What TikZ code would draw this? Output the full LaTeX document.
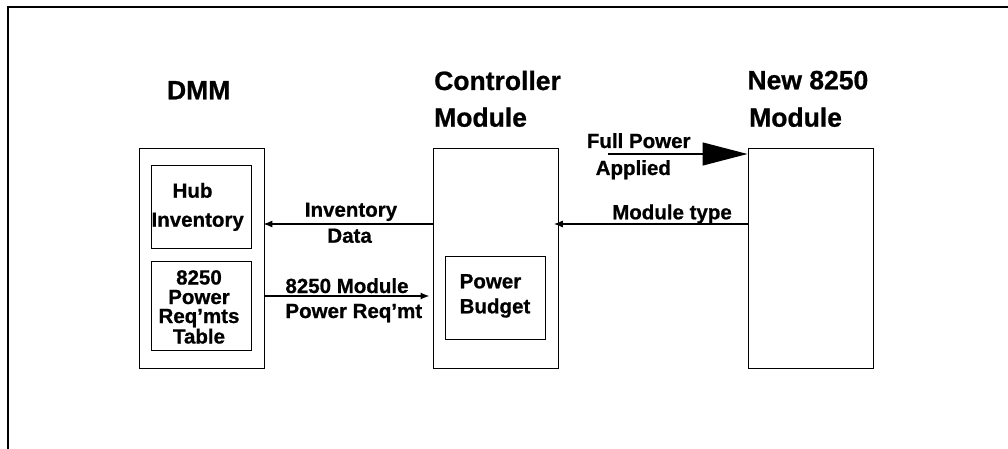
\documentclass[tikz,border=0pt]{standalone}
\usepackage{fontspec}
\setmainfont{Liberation Sans}[BoldFeatures={FakeBold=0.8}]
\usetikzlibrary{arrows.meta}
\begin{document}
\begin{tikzpicture}[x=1pt,y=-1pt,
  boxline/.style={draw=black,line width=1.3pt},
  blk/.style={boxline,rectangle,inner sep=0pt,anchor=north west},
  head/.style={inner sep=0pt,font=\bfseries\fontsize{26.5}{30}\selectfont},
  lbl/.style={inner sep=0pt,font=\bfseries\fontsize{20.5}{24}\selectfont},
  arr/.style={line width=1.3pt,-{Latex[length=9pt,width=7pt]}},
  bigarr/.style={line width=1.3pt,-{Triangle[length=45pt,width=23pt]}}]
\useasboundingbox (0,0) rectangle (1008,449);
% frame (partial)
\draw[line width=2pt] (7.5,449) -- (7.5,7.5) -- (1008,7.5);
% big boxes
\node[blk,minimum width=125pt,minimum height=220pt] (dmm) at (139,148) {};
\node[blk,minimum width=125pt,minimum height=220pt] (ctl) at (432.5,148) {};
\node[blk,minimum width=125pt,minimum height=220pt] (newm) at (747.5,148) {};
% inner boxes
\node[blk,minimum width=100pt,minimum height=82.5pt] (hub) at (150.5,165) {};
\node[blk,minimum width=100pt,minimum height=89pt] (tbl) at (150.5,261) {};
\node[blk,minimum width=100pt,minimum height=82.5pt] (pb) at (444.5,256) {};
% headings
\node[head,anchor=base] (hdmm) at (198.7,99.3) {DMM};
\node[head,anchor=base west] (hctl1) at (434,90) {Controller};
\node[head,anchor=base west] (hctl2) at (434,126.7) {Module};
\node[head,anchor=base west] (hnew1) at (747.3,89.3) {New 8250};
\node[head,anchor=base west] (hnew2) at (749,126.7) {Module};
% inner box texts
\node[lbl,anchor=base] (thub1) at (192.5,197.7) {Hub};
\node[lbl,anchor=base] (thub2) at (197.7,226.7) {Inventory};
\node[lbl,anchor=base] (ttbl1) at (199,284.5) {8250};
\node[lbl,anchor=base] (ttbl2) at (199,304) {Power};
\node[lbl,anchor=base] (ttbl3) at (199,323) {Req'mts};
\node[lbl,anchor=base] (ttbl4) at (199,343.5) {Table};
\node[lbl,anchor=base west] (tpb1) at (459.5,288.3) {Power};
\node[lbl,anchor=base west] (tpb2) at (459.5,313.3) {Budget};
% connector labels
\node[lbl,anchor=base] (lfp1) at (638.7,148) {Full Power};
\node[lbl,anchor=base] (lfp2) at (633.3,175) {Applied};
\node[lbl,anchor=base] (lmt) at (672,219.3) {Module type};
\node[lbl,anchor=base] (linv1) at (351,216.7) {Inventory};
\node[lbl,anchor=base] (linv2) at (349.6,242.7) {Data};
\node[lbl,anchor=base] (lreq1) at (347,293) {8250 Module};
\node[lbl,anchor=base] (lreq2) at (353.8,318) {Power Req'mt};
% connectors
\coordinate (yfp) at (0,154);
\coordinate (yinv) at (0,224);
\coordinate (yreq) at (0,296);
\coordinate (fpstart) at (608,154);
\draw[bigarr] (fpstart) -- (newm.west |- yfp);
\draw[arr,shorten >=-2pt] (ctl.west |- yinv) -- (dmm.east |- yinv);
\draw[arr,shorten >=-5pt] (newm.west |- yinv) -- (ctl.east |- yinv);
\draw[arr,shorten >=3pt] (dmm.east |- yreq) -- (ctl.west |- yreq);
\end{tikzpicture}
\end{document}
